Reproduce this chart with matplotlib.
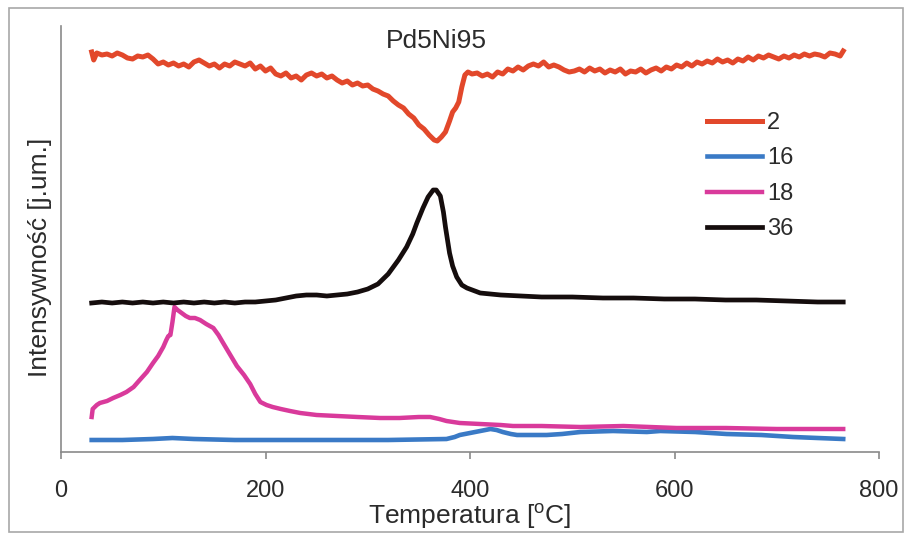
import matplotlib
matplotlib.use("Agg")
import matplotlib.pyplot as plt
from matplotlib.patches import Rectangle

plt.rcParams['font.family'] = ['Liberation Sans', 'DejaVu Sans']
plt.rcParams['mathtext.fontset'] = 'custom'
plt.rcParams['mathtext.rm'] = 'Liberation Sans'
plt.rcParams['mathtext.it'] = 'Liberation Sans:italic'

# ---- data (temperature in degC, intensity in arbitrary units) ----
temp_2 = [30, 32, 35, 40, 45, 50, 55, 60, 65, 70, 75, 80, 85, 90, 95, 100, 105, 110,
          115, 120, 125, 130, 135, 140, 145, 150, 155, 160, 165, 170, 175, 180, 185,
          190, 195, 200, 205, 210, 215, 220, 225, 230, 235, 240, 245, 250, 255, 260,
          265, 270, 275, 280, 285, 290, 295, 300, 305, 310, 315, 320, 325, 330, 335,
          340, 345, 350, 355, 360, 365, 368, 372, 376, 380, 383, 386, 389, 392, 395,
          398, 402, 407, 412, 417, 422, 427, 432, 437, 442, 447, 452, 457, 462, 467,
          472, 477, 482, 487, 492, 497, 502, 507, 512, 517, 522, 527, 532, 537, 542,
          547, 552, 557, 562, 567, 572, 577, 582, 587, 592, 597, 602, 607, 612, 617,
          622, 627, 632, 637, 642, 647, 652, 657, 662, 667, 672, 677, 682, 687, 692,
          697, 702, 707, 712, 717, 722, 727, 732, 737, 742, 747, 752, 757, 762, 765]
int_2 = [400, 392, 399, 397, 398, 396, 399, 397, 394, 393, 396, 395, 397, 393, 388,
         390, 387, 389, 386, 388, 385, 390, 392, 389, 386, 388, 384, 388, 386, 390,
         388, 386, 389, 383, 386, 381, 384, 378, 376, 379, 374, 376, 372, 377, 379,
         376, 378, 374, 376, 372, 369, 371, 367, 369, 366, 367, 363, 361, 358, 356,
         351, 347, 344, 338, 334, 327, 323, 317, 312, 311, 315, 320, 331, 340, 344,
         350, 365, 377, 380, 378, 379, 376, 378, 375, 380, 378, 383, 381, 385, 382,
         386, 388, 386, 390, 385, 387, 385, 382, 380, 381, 383, 380, 384, 381, 383,
         379, 382, 380, 383, 378, 381, 380, 383, 379, 382, 384, 381, 385, 383, 387,
         385, 389, 386, 390, 388, 391, 389, 393, 390, 392, 389, 393, 391, 395, 392,
         396, 394, 397, 395, 393, 396, 394, 397, 395, 398, 396, 398, 397, 395, 399,
         398, 396, 401]

temp_16 = [30, 60, 90, 109, 130, 170, 220, 270, 320, 377, 385, 390, 400, 410, 420,
           426, 432, 440, 446, 460, 475, 490, 508, 540, 573, 586, 620, 651, 685, 716,
           740, 765]
int_16 = [12, 12, 13, 14, 13, 12, 12, 12, 12, 13, 15, 17, 19, 21, 23, 22, 20, 18, 17,
          17, 17, 18, 20, 21, 20, 21, 20, 18, 17, 15, 14, 13]

temp_18 = [30, 31, 35, 38, 45, 51, 58, 64, 71, 77, 84, 90, 95, 100, 103, 105, 107, 109,
           111, 114, 118, 122, 126, 131, 136, 142, 149, 154, 158, 165, 172, 179, 185,
           190, 195, 201, 207, 215, 224, 234, 250, 270, 290, 312, 331, 350, 361, 370,
           377, 390, 410, 430, 442, 470, 508, 550, 602, 650, 700, 765]
int_18 = [35, 43, 47, 49, 51, 54, 57, 60, 65, 72, 80, 89, 96, 105, 112, 116, 117, 130,
          145, 142, 139, 136, 134, 134, 132, 128, 124, 117, 110, 98, 86, 77, 68, 58, 50,
          47, 45, 43, 41, 39, 37, 36, 35, 34, 34, 35, 35, 33, 31, 29, 28, 27, 26, 26,
          25, 26, 24, 24, 23, 23]

temp_36 = [30, 40, 50, 60, 70, 80, 90, 100, 110, 120, 130, 140, 150, 160, 170, 180,
           190, 200, 210, 220, 230, 240, 250, 260, 270, 280, 290, 300, 310, 320, 325,
           330, 338, 344, 348, 354, 359, 364, 367, 371, 374, 376, 380, 383, 387, 392,
           397, 410, 420, 430, 450, 470, 500, 530, 560, 590, 620, 650, 680, 710, 740,
           765]
int_36 = [149, 150, 149, 150, 149, 150, 149, 150, 149, 150, 149, 150, 149, 150, 149,
          150, 150, 151, 152, 154, 156, 157, 157, 156, 157, 158, 160, 163, 168, 178,
          185, 192, 205, 218, 229, 244, 255, 262, 262, 256, 240, 225, 199, 186, 175,
          167, 164, 159, 158, 157, 156, 155, 155, 154, 154, 153, 153, 152, 152, 151,
          150, 150]

series = [("2", temp_2, int_2, "#E2482B", 3.6),
          ("16", temp_16, int_16, "#3A7AC6", 3.3),
          ("18", temp_18, int_18, "#D93A9B", 3.2),
          ("36", temp_36, int_36, "#150D0D", 3.4)]

x_ticks = [0, 200, 400, 600, 800]

# ---- figure ----
W, H = 905, 534
fig = plt.figure(figsize=(W / 100, H / 100), dpi=100)
fig.patch.set_facecolor("white")
fig.patches.append(Rectangle((9 / W, 2 / H), 894 / W, 524 / H, transform=fig.transFigure,
                             fill=False, edgecolor="#A8A8A8", linewidth=1.2))

ax = fig.add_axes([61 / W, 82 / H, 818 / W, 426 / H])
for label, t, v, c, lw in series:
    ax.plot(t, v, color=c, linewidth=lw, label=label, solid_joinstyle="round")

ax.set_xlim(0, 800)
ax.set_ylim(0, 426)
ax.set_xticks(x_ticks)
ax.set_yticks([])
for side in ("top", "right"):
    ax.spines[side].set_visible(False)
for side in ("left", "bottom"):
    ax.spines[side].set_color("#8A8A8A")
    ax.spines[side].set_linewidth(1.2)
ax.tick_params(axis="x", direction="out", length=5, width=1.2, color="#8A8A8A",
               labelsize=17, labelcolor="#2B2B2B", pad=15)

ax.set_xlabel(r"Temperatura [$^{\mathrm{o}}$C]", fontsize=19, color="#2B2B2B")
ax.xaxis.set_label_coords(0.5, -0.118)
ax.set_ylabel("Intensywność [j.um.]", fontsize=19, color="#2B2B2B")
ax.yaxis.set_label_coords(-0.011, 0.458)

ax.text(367, 404, "Pd5Ni95", fontsize=19, color="#2B2B2B", ha="center", va="baseline")

ax.legend(loc="upper left", bbox_to_anchor=(707 / W, 1 - 112 / H),
          bbox_transform=fig.transFigure, frameon=False, fontsize=17,
          handlelength=2.35, handletextpad=0.2, labelspacing=0.57,
          borderpad=0, borderaxespad=0, labelcolor="#2B2B2B")

fig.savefig("out.png", dpi=100)
